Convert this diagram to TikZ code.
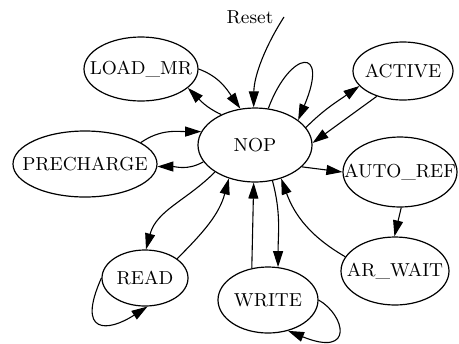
\documentclass[tikz,border=0pt]{standalone}
\usetikzlibrary{shapes.geometric,arrows.meta}
\begin{document}
\begin{tikzpicture}[x=0.5pt,y=-0.5pt,
  font=\fontsize{9.4}{11}\selectfont,
  st/.style={draw,ellipse,line width=0.6pt,inner sep=0pt},
  tr/.style={line width=0.55pt,-{Triangle[length=8pt,width=5pt]}}]
\useasboundingbox (0,0) rectangle (459,343);
\fill[white] (0,0) rectangle (459,343);
\node[st,minimum width=57pt,minimum height=37pt] (NOP) at (255,145) {\makebox[0pt]{NOP}};
\node[st,minimum width=57pt,minimum height=32pt] (LMR) at (141,69) {\makebox[0pt]{LOAD\_MR}};
\node[st,minimum width=72pt,minimum height=33pt] (PRE) at (85,164) {\makebox[0pt]{PRECHARGE}};
\node[st,minimum width=50pt,minimum height=29pt] (ACT) at (403,71) {\makebox[0pt]{ACTIVE}};
\node[st,minimum width=57pt,minimum height=35pt] (AREF) at (400,172) {\makebox[0pt]{AUTO\_REF}};
\node[st,minimum width=54pt,minimum height=34pt] (ARW) at (395,271) {\makebox[0pt]{AR\_WAIT}};
\node[st,minimum width=50pt,minimum height=33pt] (WR) at (268,300) {\makebox[0pt]{WRITE}};
\node[st,minimum width=43pt,minimum height=28pt] (RD) at (145,278) {\makebox[0pt]{READ}};
\node (Reset) at (250,17) {Reset};
\coordinate (rs) at (284,17);
\draw[tr] (rs) .. controls (266,45) and (254,75) .. (NOP.92);
\draw[tr] (NOP.70) .. controls (290,50) and (330,45) .. (NOP.30);
\draw[tr] (LMR.0) to[out=-20,in=125] (NOP.112);
\draw[tr] (NOP.138) to[out=155,in=-45] (LMR.-22);
\draw[tr] (PRE.21) to[out=35,in=180] (NOP.166);
\draw[tr] (NOP.198) to[out=-150,in=0] (PRE.-2);
\draw[tr] (NOP.19) to[out=45,in=-145] (ACT.199);
\draw[tr] (ACT.224) -- (NOP.2);
\draw[tr] (NOP.-25) -- (AREF.180);
\draw[tr] (AREF.-88) -- (ARW.91);
\draw[tr] (ARW.164) to[out=150,in=-70] (NOP.-52);
\draw[tr] (NOP.-64) to[out=-75,in=90] (WR.73);
\draw[tr] (WR.117) -- (NOP.-92);
\draw[tr] (NOP.214) to[out=-135,in=75] (RD.88);
\draw[tr] (RD.31) to[out=45,in=-105] (NOP.232);
\draw[tr] (RD.180) .. controls (76,335) and (108,332) .. (RD.-85);
\draw[tr] (WR.0) .. controls (345,315) and (355,358) .. (WR.-57);
\end{tikzpicture}
\end{document}
